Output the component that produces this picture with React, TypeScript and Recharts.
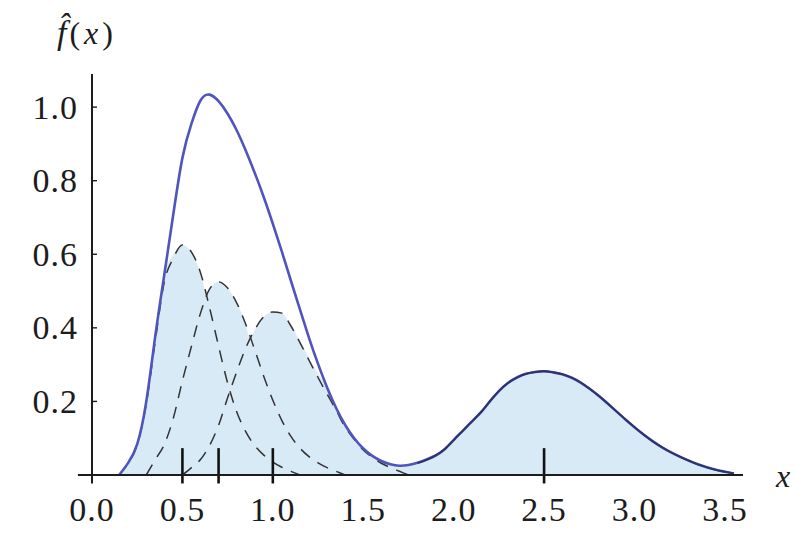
import React from "react";
import { ComposedChart, Area, Line, XAxis, YAxis, ReferenceLine } from "recharts";

// kernel density estimate f̂(x): sum curve, the four kernels and the shaded envelope
const gridX = [
  0.15, 0.2, 0.25, 0.3, 0.35, 0.4, 0.45, 0.5, 0.55, 0.6, 0.65, 0.7, 0.75, 0.8, 0.85, 0.9, 0.95, 1.0,
  1.05, 1.1, 1.15, 1.2, 1.25, 1.3, 1.35, 1.4, 1.45, 1.5, 1.55, 1.6, 1.65, 1.7, 1.75, 1.8, 1.85, 1.9,
  1.95, 2.0, 2.05, 2.1, 2.15, 2.2, 2.25, 2.3, 2.35, 2.4, 2.45, 2.5, 2.55, 2.6, 2.65, 2.7, 2.75, 2.8,
  2.85, 2.9, 2.95, 3.0, 3.05, 3.1, 3.15, 3.2, 3.25, 3.3, 3.35, 3.4, 3.45, 3.5, 3.55,
];
const densityY = [
  0.0, 0.033, 0.084, 0.199, 0.378, 0.545, 0.71, 0.862, 0.955, 1.018, 1.034, 1.016, 0.982, 0.937, 0.882,
  0.821, 0.755, 0.683, 0.607, 0.528, 0.45, 0.373, 0.302, 0.238, 0.182, 0.136, 0.1, 0.072, 0.052, 0.038,
  0.029, 0.025, 0.027, 0.033, 0.042, 0.053, 0.07, 0.095, 0.12, 0.145, 0.17, 0.2, 0.228, 0.25, 0.265,
  0.275, 0.28, 0.282, 0.279, 0.274, 0.265, 0.252, 0.235, 0.216, 0.195, 0.173, 0.151, 0.13, 0.11, 0.092,
  0.076, 0.062, 0.05, 0.039, 0.029, 0.021, 0.014, 0.009, 0.004,
];

const kernelAX = [0.15, 0.2, 0.25, 0.3, 0.35, 0.4, 0.45, 0.5, 0.55, 0.6, 0.65, 0.7, 0.75, 0.8, 0.85, 0.9, 0.95, 1.0, 1.05, 1.1, 1.15];
const kernelAY = [0.0, 0.032, 0.082, 0.193, 0.365, 0.525, 0.59, 0.625, 0.606, 0.55, 0.455, 0.35, 0.25, 0.172, 0.118, 0.08, 0.054, 0.035, 0.021, 0.01, 0.0];

const kernelBX = [0.3, 0.35, 0.4, 0.45, 0.5, 0.55, 0.6, 0.65, 0.7, 0.75, 0.8, 0.85, 0.9, 0.95, 1.0, 1.05, 1.1, 1.15, 1.2, 1.25, 1.3, 1.35, 1.4];
const kernelBY = [0.0, 0.042, 0.083, 0.155, 0.256, 0.35, 0.44, 0.505, 0.525, 0.508, 0.468, 0.41, 0.34, 0.268, 0.203, 0.148, 0.105, 0.073, 0.05, 0.033, 0.02, 0.01, 0.0];

const kernelCX = [
  0.5, 0.55, 0.6, 0.65, 0.7, 0.75, 0.8, 0.85, 0.9, 0.95, 1.0, 1.05, 1.1, 1.15, 1.2, 1.25, 1.3, 1.35, 1.4,
  1.45, 1.5, 1.55, 1.6, 1.65, 1.7, 1.75,
];
const kernelCY = [
  0.0, 0.02, 0.042, 0.08, 0.135, 0.21, 0.28, 0.345, 0.395, 0.43, 0.443, 0.44, 0.405, 0.36, 0.312, 0.265,
  0.22, 0.176, 0.13, 0.097, 0.068, 0.048, 0.032, 0.02, 0.01, 0.0,
];

const kernelDX = [
  1.8, 1.85, 1.9, 1.95, 2.0, 2.05, 2.1, 2.15, 2.2, 2.25, 2.3, 2.35, 2.4, 2.45, 2.5, 2.55, 2.6, 2.65, 2.7,
  2.75, 2.8, 2.85, 2.9, 2.95, 3.0, 3.05, 3.1, 3.15, 3.2, 3.25, 3.3, 3.35, 3.4, 3.45, 3.5, 3.55,
];
const kernelDY = [
  0.032, 0.041, 0.053, 0.07, 0.095, 0.12, 0.145, 0.17, 0.2, 0.228, 0.25, 0.265, 0.275, 0.28, 0.282, 0.279,
  0.274, 0.265, 0.252, 0.235, 0.216, 0.195, 0.173, 0.151, 0.13, 0.11, 0.092, 0.076, 0.062, 0.05, 0.039,
  0.029, 0.021, 0.014, 0.009, 0.004,
];

// top edge of the light blue shading
const shadeX = [
  0.15, 0.2, 0.25, 0.3, 0.35, 0.4, 0.45, 0.5, 0.55, 0.6, 0.634, 0.65, 0.7, 0.75, 0.8, 0.85, 0.874, 0.9,
  0.95, 1.0, 1.05, 1.1, 1.15, 1.2, 1.25, 1.3, 1.35, 1.4, 1.45, 1.5, 1.55, 1.6, 1.65, 1.7, 1.75, 1.8, 1.85,
  1.9, 1.95, 2.0, 2.05, 2.1, 2.15, 2.2, 2.25, 2.3, 2.35, 2.4, 2.45, 2.5, 2.55, 2.6, 2.65, 2.7, 2.75, 2.8,
  2.85, 2.9, 2.95, 3.0, 3.05, 3.1, 3.15, 3.2, 3.25, 3.3, 3.35, 3.4, 3.45, 3.5, 3.55,
];
const shadeY = [
  0.0, 0.033, 0.084, 0.199, 0.378, 0.545, 0.6, 0.625, 0.606, 0.55, 0.494, 0.505, 0.525, 0.508, 0.468, 0.41,
  0.372, 0.395, 0.43, 0.443, 0.44, 0.405, 0.365, 0.318, 0.275, 0.238, 0.182, 0.136, 0.1, 0.072, 0.052,
  0.038, 0.029, 0.025, 0.027, 0.033, 0.042, 0.053, 0.07, 0.095, 0.12, 0.145, 0.17, 0.2, 0.228, 0.25, 0.265,
  0.275, 0.28, 0.282, 0.279, 0.274, 0.265, 0.252, 0.235, 0.216, 0.195, 0.173, 0.151, 0.13, 0.11, 0.092,
  0.076, 0.062, 0.05, 0.039, 0.029, 0.021, 0.014, 0.009, 0.004,
];

const observations = [0.5, 0.7, 1.0, 2.5];
const xTicks = [0, 0.5, 1, 1.5, 2, 2.5, 3, 3.5];
const yTicks = [0.2, 0.4, 0.6, 0.8, 1.0];

const zip = (xs: number[], ys: number[]) => xs.map((x, i) => ({ x, y: ys[i] }));

const density = zip(gridX, densityY);
const kernelA = zip(kernelAX, kernelAY);
const kernelB = zip(kernelBX, kernelBY);
const kernelC = zip(kernelCX, kernelCY);
const kernelD = zip(kernelDX, kernelDY);
const shade = zip(shadeX, shadeY);

const SERIF = "'Liberation Serif', 'DejaVu Serif', serif";
const INK = "#1c1c1c";

function YTick({ x, y, payload }: any) {
  return (
    <g>
      <line x1={x + 14} x2={x + 19} y1={y} y2={y} stroke={INK} strokeWidth={1.4} />
      <text x={x} y={y} textAnchor="end" dominantBaseline="central" fill={INK} fontSize={34} fontFamily={SERIF} letterSpacing={1}>
        {Number(payload.value).toFixed(1)}
      </text>
    </g>
  );
}

export default function App() {
  return (
    <div style={{ position: "absolute", left: 0, top: 0, width: 806, height: 534, background: "#fff" }}>
      <ComposedChart width={806} height={534} margin={{ top: 74, right: 63, bottom: 0, left: 0 }}>
        <XAxis
          type="number"
          dataKey="x"
          domain={[0, 3.6]}
          ticks={xTicks}
          tickFormatter={(v: number) => v.toFixed(1)}
          tickLine={false}
          tickSize={0}
          tickMargin={22}
          height={59}
          axisLine={{ stroke: INK, strokeWidth: 2 }}
          tick={{ fill: INK, fontSize: 34, fontFamily: SERIF, letterSpacing: 1 }}
          allowDuplicatedCategory={false}
        />
        <YAxis
          type="number"
          dataKey="y"
          domain={[0, 1.09]}
          ticks={yTicks}
          width={92}
          tickLine={false}
          tickSize={0}
          tickMargin={14}
          axisLine={{ stroke: INK, strokeWidth: 2 }}
          tick={<YTick />}
        />

        <Area
          data={shade}
          dataKey="y"
          type="monotone"
          stroke="none"
          fill="#d9eaf7"
          fillOpacity={1}
          isAnimationActive={false}
        />

        {[kernelA, kernelB, kernelC].map((k, i) => (
          <Line
            key={i}
            data={k}
            dataKey="y"
            type="monotone"
            stroke="#333"
            strokeWidth={1.5}
            strokeDasharray="12 9"
            dot={false}
            isAnimationActive={false}
          />
        ))}

        <Line
          data={density}
          dataKey="y"
          type="natural"
          stroke="#5054bd"
          strokeWidth={2.6}
          dot={false}
          isAnimationActive={false}
        />
        <Line
          data={kernelD}
          dataKey="y"
          type="natural"
          stroke="#2b3266"
          strokeWidth={1.8}
          dot={false}
          isAnimationActive={false}
        />

        {/* axis stubs past the origin */}
        <ReferenceLine segment={[{ x: 0, y: 0 }, { x: 0, y: -0.023 }]} stroke={INK} strokeWidth={2} ifOverflow="visible" />
        <ReferenceLine segment={[{ x: -0.078, y: 0 }, { x: 0, y: 0 }]} stroke={INK} strokeWidth={2} ifOverflow="visible" />

        {/* rug of the observations */}
        {observations.map((o) => (
          <ReferenceLine
            key={o}
            segment={[{ x: o, y: -0.023 }, { x: o, y: 0.073 }]}
            stroke="#111"
            strokeWidth={2.6}
            ifOverflow="visible"
          />
        ))}
      </ComposedChart>

      <svg width={806} height={534} style={{ position: "absolute", left: 0, top: 0, pointerEvents: "none" }}>
        <text x={57} y={44} fontFamily={SERIF} fill={INK} fontSize={32}>
          <tspan fontStyle="italic" fontSize={34}>{"f\u0302"}</tspan>
          <tspan dx={3} letterSpacing={4}>(</tspan>
          <tspan fontStyle="italic" letterSpacing={4}>x</tspan>
          <tspan>)</tspan>
        </text>
        <text x={776} y={487} fontFamily={SERIF} fontStyle="italic" fontSize={32} fill={INK}>x</text>
      </svg>
    </div>
  );
}
